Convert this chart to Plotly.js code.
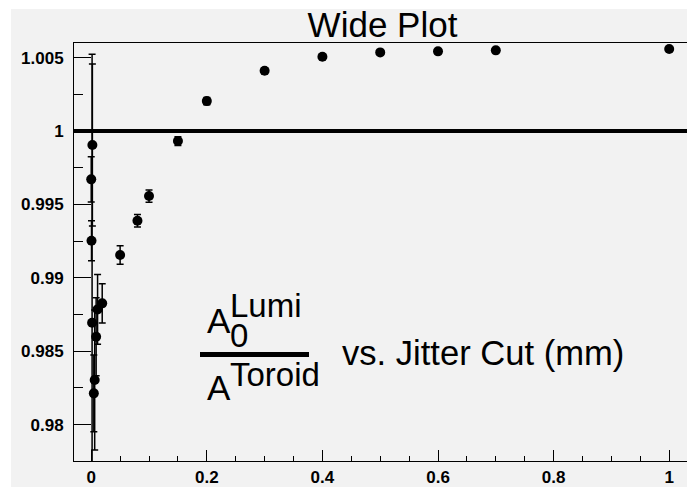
<!DOCTYPE html>
<html><head><meta charset="utf-8">
<script src="https://cdn.plot.ly/plotly-3.0.1.min.js"></script>
<style>
html,body{margin:0;padding:0;background:#ffffff;width:687px;height:487px;overflow:hidden}
#chart{position:absolute;left:0;top:0;width:687px;height:487px}
</style></head><body><div id="chart"></div>
<script>
// Data
var jitterCut = [0, 0.0005, 0.0015, 0.002, 0.0045, 0.006, 0.0085, 0.011, 0.019, 0.05, 0.08, 0.1, 0.15, 0.2, 0.3, 0.4, 0.5, 0.6, 0.7, 1.0];
var ratio     = [0.99671, 0.99253, 0.98694, 0.99905, 0.98213, 0.98304, 0.98599, 0.98785, 0.98826, 0.99155, 0.99389, 0.99557, 0.99932, 1.00204, 1.00411, 1.00506, 1.00536, 1.00543, 1.0055, 1.00559];
var ratioErr  = [0.00154, 0.00136, 0.0183, 0.00552, 0.00262, 0.00477, 0.00266, 0.00238, 0.00133, 0.00063, 0.00043, 0.00042, 0.0003, 0.00025, 0.0002, 0.00018, 0.00015, 0.00012, 0.00012, 0.0001];
var refLevel = 1;
var xTickVals = [0, 0.2, 0.4, 0.6, 0.8, 1];
var xTickText = ["0", "0.2", "0.4", "0.6", "0.8", "1"];
var yTickVals = [0.98, 0.985, 0.99, 0.995, 1, 1.005];
var yTickText = ["0.98", "0.985", "0.99", "0.995", "1", "1.005"];
var titleText = "Wide Plot";

// page-pixel -> paper helpers for text placement (plot area: x 74..687, y 43..461)
function PX(p){ return (p - 74) / 613; }
function PY(p){ return (461 - p) / 418; }

var FONT = "Liberation Sans, Arial, Helvetica, sans-serif";
var trace = {
  x: jitterCut, y: ratio, type: "scatter", mode: "markers",
  marker: {color: "#000000", size: 10, symbol: "circle"},
  error_y: {type: "data", array: ratioErr, visible: true, color: "#000000", thickness: 1.5, width: 3.5},
  cliponaxis: true, showlegend: false, hoverinfo: "x+y"
};

var tickFont = {family: FONT, size: 17, color: "#000000", weight: "bold"};
var layout = {
  width: 687, height: 487,
  margin: {l: 74, r: 0, t: 43, b: 26, pad: 0},
  paper_bgcolor: "#ffffff", plot_bgcolor: "rgba(0,0,0,0)",
  title: {text: titleText, font: {family: FONT, size: 35, color: "#000000"},
          xref: "paper", x: PX(382.5), xanchor: "center",
          yref: "container", y: 1 - 25/487, yanchor: "middle"},
  xaxis: {range: [-0.0298, 1.0308], showgrid: false, zeroline: false,
          showline: true, linecolor: "#000000", linewidth: 1, mirror: true,
          ticks: "inside", ticklen: 11, tickwidth: 1, tickcolor: "#000000",
          tickvals: xTickVals, ticktext: xTickText, tickfont: tickFont, ticklabelstandoff: 1,
          minor: {dtick: 0.05, tick0: 0, ticks: "inside", ticklen: 5, tickwidth: 1, tickcolor: "#000000", showgrid: false}},
  yaxis: {range: [0.97752, 1.006], showgrid: false, zeroline: false,
          showline: true, linecolor: "#000000", linewidth: 1, mirror: false,
          ticks: "inside", ticklen: 17, tickwidth: 1, tickcolor: "#000000",
          tickvals: yTickVals, ticktext: yTickText, tickfont: tickFont, ticklabelstandoff: 6,
          minor: {dtick: 0.0025, tick0: 0.98, ticks: "inside", ticklen: 9, tickwidth: 1, tickcolor: "#000000", showgrid: false}},
  shapes: [
    {type: "rect", xref: "paper", yref: "paper", x0: PX(11), x1: PX(690), y0: PY(9), y1: PY(490),
     fillcolor: "#f2f2f2", line: {width: 0}, layer: "below"},
    {type: "line", xref: "paper", yref: "y", x0: 0, x1: 1, y0: refLevel, y1: refLevel,
     line: {color: "#000000", width: 4}, layer: "below"},
    {type: "line", xref: "paper", yref: "paper", x0: PX(200), x1: PX(309), y0: PY(354.5), y1: PY(354.5),
     line: {color: "#000000", width: 5}}
  ],
  annotations: [
    {text: "A", xref: "paper", yref: "paper", x: PX(205), y: PY(320.5), xanchor: "left", yanchor: "middle", showarrow: false, font: {family: FONT, size: 35, color: "#000"}},
    {text: "Lumi", xref: "paper", yref: "paper", x: PX(228), y: PY(305), xanchor: "left", yanchor: "middle", showarrow: false, font: {family: FONT, size: 33, color: "#000"}},
    {text: "0", xref: "paper", yref: "paper", x: PX(228), y: PY(335.5), xanchor: "left", yanchor: "middle", showarrow: false, font: {family: FONT, size: 33, color: "#000"}},
    {text: "Toroid", xref: "paper", yref: "paper", x: PX(228), y: PY(374.5), xanchor: "left", yanchor: "middle", showarrow: false, font: {family: FONT, size: 33, color: "#000"}},
    {text: "A", xref: "paper", yref: "paper", x: PX(205), y: PY(387.5), xanchor: "left", yanchor: "middle", showarrow: false, font: {family: FONT, size: 35, color: "#000"}},
    {text: "vs. Jitter Cut (mm)", xref: "paper", yref: "paper", x: PX(340), y: PY(352.5), xanchor: "left", yanchor: "middle", showarrow: false, font: {family: FONT, size: 34.6, color: "#000"}}
  ]
};
Plotly.newPlot("chart", [trace], layout, {displayModeBar: false, staticPlot: true});
</script></body></html>
